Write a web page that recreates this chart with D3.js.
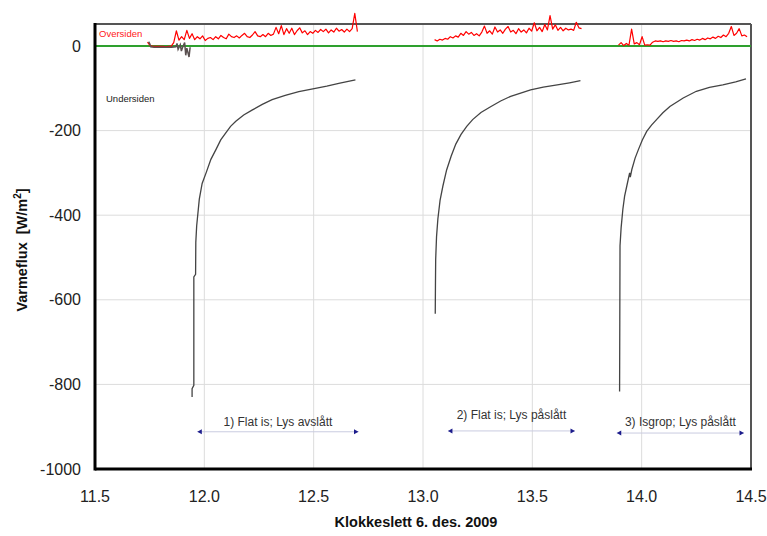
<!DOCTYPE html>
<html>
<head>
<meta charset="utf-8">
<script src="https://cdn.jsdelivr.net/npm/d3@7"></script>
<style>
  body { margin: 0; background: #fff; }
  text { font-family: "Liberation Sans", Arial, sans-serif; }
</style>
</head>
<body>
<svg id="chart" width="767" height="536"></svg>
<script>
// x ticks / y ticks
const xTicks = [11.5, 12.0, 12.5, 13.0, 13.5, 14.0, 14.5];
const yTicks = [0, -200, -400, -600, -800, -1000];

// Undersiden (black) – time [h], flux [W/m2]
const underPre_t = [11.745, 11.75, 11.755, 11.77, 11.85, 11.87, 11.875, 11.88, 11.89, 11.895, 11.90, 11.91, 11.915, 11.92, 11.93, 11.935];
const underPre_v = [10, 6, -2, -3, -3, -2, 6, -8, 3, -12, -4, 8, -22, -5, -26, -3];

const under1_t = [11.944, 11.944, 11.952, 11.952, 11.960, 11.961, 11.965, 11.977, 11.990, 12.008, 12.030, 12.053, 12.075, 12.099, 12.120, 12.144, 12.180, 12.220, 12.265, 12.310, 12.370, 12.432, 12.508, 12.560, 12.620, 12.691];
const under1_v = [-830, -810, -802, -546, -540, -464, -425, -362, -325, -300, -268, -245, -222, -205, -190, -178, -163, -151, -138, -127, -117, -108, -100, -95, -88, -80];

const under2_t = [13.056, 13.057, 13.058, 13.062, 13.068, 13.078, 13.091, 13.108, 13.129, 13.150, 13.174, 13.200, 13.227, 13.265, 13.311, 13.355, 13.401, 13.450, 13.492, 13.550, 13.614, 13.670, 13.720];
const under2_v = [-633, -560, -504, -450, -409, -365, -331, -293, -260, -232, -209, -190, -174, -157, -143, -130, -119, -111, -104, -97, -92, -87, -82];

const under3_t = [13.899, 13.900, 13.901, 13.906, 13.914, 13.922, 13.932, 13.945, 13.948, 13.955, 13.970, 13.985, 14.003, 14.023, 14.045, 14.068, 14.097, 14.129, 14.190, 14.250, 14.310, 14.371, 14.430, 14.477];
const under3_v = [-817, -650, -472, -430, -386, -355, -331, -300, -310, -292, -265, -245, -222, -202, -187, -174, -158, -143, -123, -107, -98, -92, -85, -78];

// Oversiden (red) – sampled every 0.012 h from a start time
const overStep = 0.012;
const over1_start = 11.74;
const over1_v = [9, 1, -1, -1, -1, -1, -1, -2, -1, -1,
  8, 36, 14, 22, 15, 37, 18, 29, 15, 22, 17, 24, 13, 18, 20, 15, 22, 17, 25, 20,
  17, 28, 22, 20, 24, 19, 25, 30, 22, 20, 26, 34, 24, 22, 27, 22, 30, 25, 28, 44,
  29, 48, 27, 41, 30, 42, 27, 36, 43, 31, 36, 27, 34, 30, 37, 32, 39, 34, 40, 31,
  38, 33, 42, 35, 39, 33, 40, 34, 41, 77, 34];
const over2_start = 13.053;
const over2_v = [15, 12, 16, 14, 18, 16, 22, 19, 24, 21, 30, 25, 34, 28, 32, 25, 29, 24, 33, 47,
  30, 36, 28, 45, 33, 38, 30, 40, 46, 33, 37, 29, 41, 33, 38, 31, 42, 35, 55, 36,
  44, 34, 51, 38, 72, 40, 50, 37, 44, 36, 42, 38, 40, 37, 56, 43, 41];
const over3_start = 13.894;
const over3_v = [2, 8, 1, 6, 2, 40, 5, 8, 3, 22, 2, 3, 2, 9, 12, 11, 12, 10, 12, 11,
  13, 11, 12, 10, 13, 12, 14, 12, 15, 13, 16, 14, 18, 15, 19, 17, 21, 18, 23, 20,
  26, 22, 30, 46, 25, 30, 41, 24, 26, 22];

// annotations
const annoLabels = ["1) Flat is; Lys avslått", "2) Flat is; Lys påslått", "3) Isgrop; Lys påslått"];
const annoStart = [11.968, 13.114, 13.886];
const annoEnd = [12.705, 13.695, 14.468];
const annoArrowY = [-912, -910, -915];
const annoTextY = [-898, -882, -898];

const svg = d3.select("#chart");
const x = d3.scaleLinear().domain([11.5, 14.5]).range([95, 751]);
const y = d3.scaleLinear().domain([-1000, 52]).range([469, 24]);

// grid
svg.append("g").selectAll("line").data(xTicks.slice(1, -1)).join("line")
  .attr("x1", d => x(d)).attr("x2", d => x(d))
  .attr("y1", y(52)).attr("y2", y(-1000))
  .attr("stroke", "#dcdcdc").attr("stroke-width", 1);
svg.append("g").selectAll("line").data(yTicks.slice(1, -1)).join("line")
  .attr("x1", x(11.5)).attr("x2", x(14.5))
  .attr("y1", d => y(d)).attr("y2", d => y(d))
  .attr("stroke", "#dcdcdc").attr("stroke-width", 1);

// frame: top + right grey, left + bottom black
svg.append("line").attr("x1", x(11.5)).attr("x2", x(14.5)).attr("y1", y(52)).attr("y2", y(52))
  .attr("stroke", "#555").attr("stroke-width", 2);
svg.append("line").attr("x1", x(14.5)).attr("x2", x(14.5)).attr("y1", y(52)).attr("y2", y(-1000))
  .attr("stroke", "#555").attr("stroke-width", 2);

// zero line
svg.append("line").attr("x1", x(11.5)).attr("x2", x(14.5)).attr("y1", y(0)).attr("y2", y(0))
  .attr("stroke", "#2ea02e").attr("stroke-width", 2);

const line = d3.line().x(d => x(d[0])).y(d => y(d[1]));
const zipT = (t, v) => t.map((d, i) => [d, v[i]]);
const zipStep = (t0, v) => v.map((d, i) => [t0 + i * overStep, d]);

// overside
[zipStep(over1_start, over1_v), zipStep(over2_start, over2_v), zipStep(over3_start, over3_v)]
  .forEach(seg => {
    svg.append("path").datum(seg).attr("d", line)
      .attr("fill", "none").attr("stroke", "#ff0000").attr("stroke-width", 1.2)
      .attr("stroke-linejoin", "round");
  });

// underside (pre part drawn over the red, greyish)
[zipT(underPre_t, underPre_v), zipT(under1_t, under1_v), zipT(under2_t, under2_v), zipT(under3_t, under3_v)]
  .forEach((seg, i) => {
    svg.append("path").datum(seg).attr("d", line)
      .attr("fill", "none").attr("stroke", i === 0 ? "#5a5050" : "#444")
      .attr("stroke-width", i === 0 ? 1.5 : 1.3);
  });

// axes lines (black)
svg.append("line").attr("x1", x(11.5)).attr("x2", x(11.5)).attr("y1", y(52) - 1).attr("y2", y(-1000) + 1.5)
  .attr("stroke", "#000").attr("stroke-width", 3);
svg.append("line").attr("x1", x(11.5)).attr("x2", x(14.5) + 1).attr("y1", y(-1000)).attr("y2", y(-1000))
  .attr("stroke", "#000").attr("stroke-width", 3);

// tick labels
svg.append("g").selectAll("text").data(yTicks).join("text")
  .attr("x", 81).attr("y", d => y(d)).attr("dy", "0.35em")
  .attr("text-anchor", "end").attr("font-size", 16).attr("fill", "#222")
  .text(d => d);
svg.append("g").selectAll("text").data(xTicks).join("text")
  .attr("x", d => x(d)).attr("y", 502)
  .attr("text-anchor", "middle").attr("font-size", 16).attr("fill", "#222")
  .text(d => d3.format(".1f")(d));

// axis titles
svg.append("text").attr("x", 416).attr("y", 527).attr("text-anchor", "middle")
  .attr("font-size", 14.5).attr("font-weight", "bold").attr("fill", "#111")
  .text("Klokkeslett 6. des. 2009");
const yt = svg.append("text").attr("transform", "translate(27,250) rotate(-90)")
  .attr("text-anchor", "middle").attr("font-size", 14.5).attr("font-weight", "bold").attr("fill", "#111");
yt.append("tspan").text("Varmeflux\u00a0\u00a0[W/m");
yt.append("tspan").attr("font-size", 10).attr("dy", -6).text("2");
yt.append("tspan").attr("dy", 6).text("]");

// series labels
svg.append("text").attr("x", 99).attr("y", 37).attr("font-size", 9.5).attr("fill", "#ff2020").text("Oversiden");
svg.append("text").attr("x", 106).attr("y", 102).attr("font-size", 9.5).attr("fill", "#222").text("Undersiden");

// annotations
const ann = svg.append("g");
annoLabels.forEach((lab, i) => {
  const ay = y(annoArrowY[i]);
  ann.append("line").attr("x1", x(annoStart[i])).attr("x2", x(annoEnd[i]))
    .attr("y1", ay).attr("y2", ay).attr("stroke", "#c9cbe0").attr("stroke-width", 1);
  ann.append("path")
    .attr("d", `M${x(annoStart[i])},${ay} l4.5,-2.5 l0,5 z`).attr("fill", "#1c1c8c");
  ann.append("path")
    .attr("d", `M${x(annoEnd[i])},${ay} l-4.5,-2.5 l0,5 z`).attr("fill", "#1c1c8c");
  ann.append("text").attr("x", (x(annoStart[i]) + x(annoEnd[i])) / 2).attr("y", y(annoTextY[i]))
    .attr("text-anchor", "middle").attr("font-size", 12).attr("fill", "#333").text(lab);
});
</script>
</body>
</html>
